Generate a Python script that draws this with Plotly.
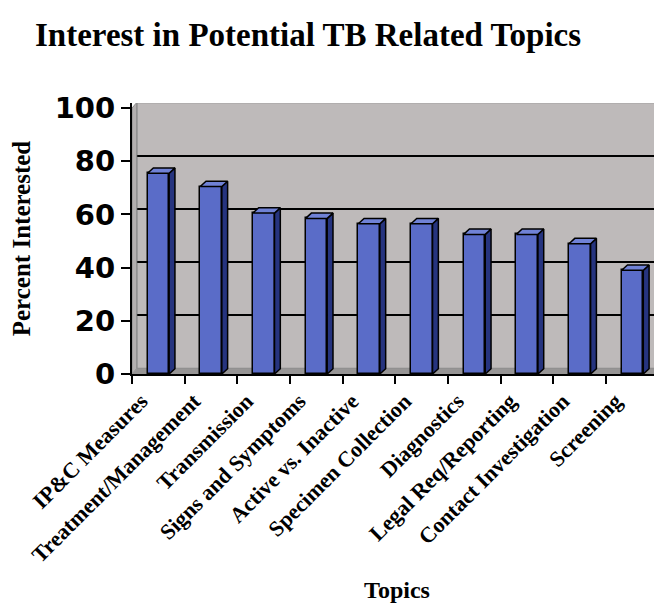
import plotly.graph_objects as go

topics = ["IP&C Measures", "Treatment/Management", "Transmission", "Signs and Symptoms",
          "Active vs. Inactive", "Specimen Collection", "Diagnostics", "Legal Req/Reporting",
          "Contact Investigation", "Screening"]
percent = [75.5, 70.5, 60.5, 58.5, 56.5, 56.5, 52.5, 52.5, 49, 39]
y_ticks = [0, 20, 40, 60, 80, 100]

pos = list(range(len(topics)))
boundaries = [p - 0.5 for p in pos] + [pos[-1] + 0.5]

BAR_W = 0.41
DX, DY = 0.11, 2.0          # depth of the fake 3d bars (x units, y units)
BACK_DX, BACK_DY = 0.09, 2.07  # offset of the back wall
X_RANGE = [-0.5, 9.56]
Y_RANGE = [0, 101.9]

FRONT = "#5a6cc8"
SIDE = "#26347f"
TOP = "#7082d6"
WALL = "#bebaba"
FLOOR = "#979595"
SERIF = "Liberation Serif"

# page body has an 8px margin, so the figure is 8px smaller than the window
W, H = 654, 595

# side and top faces of each column, built from the data
side_x, side_y, top_x, top_y = [], [], [], []
for p, v in zip(pos, percent):
    x0, x1 = p - BAR_W / 2, p + BAR_W / 2
    side_x += [x1, x1 + DX, x1 + DX, x1, x1, None]
    side_y += [0, DY, v + DY, v, 0, None]
    top_x += [x0, x1, x1 + DX, x0 + DX, x0, None]
    top_y += [v, v, v + DY, v + DY, v, None]

fig = go.Figure()
fig.add_trace(go.Bar(x=pos, y=percent, width=BAR_W,
                     marker=dict(color=FRONT, line=dict(color="black", width=1.5))))
fig.add_trace(go.Scatter(x=side_x, y=side_y, fill="toself", fillcolor=SIDE, mode="lines",
                         line=dict(color="black", width=1.5), hoverinfo="skip"))
fig.add_trace(go.Scatter(x=top_x, y=top_y, fill="toself", fillcolor=TOP, mode="lines",
                         line=dict(color="black", width=1.5), hoverinfo="skip"))
# carrier for the label axis / back-wall grid axis
fig.add_trace(go.Scatter(x=pos, y=percent, xaxis="x2", yaxis="y2", mode="markers",
                         marker=dict(opacity=0), hoverinfo="skip"))

# back wall, left wall and floor
x_end = X_RANGE[1] + 1
fig.add_shape(type="rect", xref="x", yref="y", x0=X_RANGE[0] + BACK_DX, x1=x_end,
              y0=BACK_DY, y1=100 + BACK_DY, fillcolor=WALL,
              line=dict(color="#8a8a8a", width=1.5), layer="below")
fig.add_shape(type="path", xref="x", yref="y",
              path=f"M {X_RANGE[0]},0 L {X_RANGE[0] + BACK_DX},{BACK_DY} "
                   f"L {X_RANGE[0] + BACK_DX},{100 + BACK_DY} L {X_RANGE[0]},100 Z",
              fillcolor="#b3afaf", line=dict(color="#8a8a8a", width=1), layer="between")
fig.add_shape(type="path", xref="x", yref="y",
              path=f"M {X_RANGE[0]},0 L {x_end},0 L {x_end},{BACK_DY} "
                   f"L {X_RANGE[0] + BACK_DX},{BACK_DY} Z",
              fillcolor=FLOOR, line=dict(width=0), layer="between")

fig.update_layout(
    width=W, height=H,
    margin=dict(l=124, r=0, t=95, b=229),
    paper_bgcolor="white", plot_bgcolor="white",
    showlegend=False, bargap=0,
    title=dict(text="Interest in Potential TB Related Topics",
               font=dict(family=SERIF, size=33, color="black", weight="bold"),
               x=27 / W, xanchor="left", xref="container",
               y=1 - 26 / H, yanchor="middle", yref="container"),
    xaxis=dict(range=X_RANGE, tickvals=boundaries, ticktext=[""] * len(boundaries),
               ticks="outside", ticklen=8, tickwidth=2, tickcolor="black",
               showline=True, linecolor="black", linewidth=2,
               showgrid=False, zeroline=False),
    xaxis2=dict(range=X_RANGE, overlaying="x", side="bottom", anchor="y",
                tickvals=pos, ticktext=topics, tickangle=-45,
                ticklabelshift=-17, ticklabelstandoff=9,
                tickfont=dict(family=SERIF, size=22, color="black", weight="bold"),
                ticks="", showline=False, showgrid=False, zeroline=False,
                title=dict(text="Topics", standoff=14,
                           font=dict(family=SERIF, size=24, color="black", weight="bold"))),
    yaxis=dict(range=Y_RANGE, tickvals=y_ticks,
               tickfont=dict(family="DejaVu Sans", size=29, color="black", weight="bold"),
               ticks="outside", ticklen=9, tickwidth=2, tickcolor="black",
               showline=True, linecolor="black", linewidth=2,
               showgrid=False, zeroline=False,
               title=dict(text="Percent Interested", standoff=17,
                          font=dict(family=SERIF, size=25, color="black", weight="bold"))),
    yaxis2=dict(range=[Y_RANGE[0] - BACK_DY, Y_RANGE[1] - BACK_DY], overlaying="y",
                tickvals=[20, 40, 60, 80], showticklabels=False, ticks="",
                showgrid=True, gridcolor="black", gridwidth=2,
                showline=False, zeroline=False),
)

fig.write_html("out.html")
